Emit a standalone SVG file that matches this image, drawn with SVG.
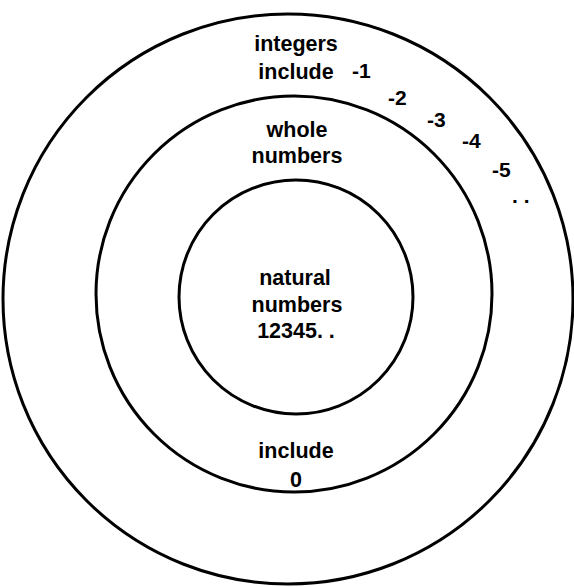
<svg xmlns="http://www.w3.org/2000/svg" width="574" height="587" viewBox="0 0 574 587">
<style>
  .ring { fill: none; stroke: #000; stroke-width: 3; }
  .t { font-family: "Liberation Sans", Arial, sans-serif; font-weight: bold; font-size: 21.5px; fill: #000; text-anchor: middle; }
  .n { font-family: "Liberation Sans", Arial, sans-serif; font-weight: bold; font-size: 21px; fill: #000; text-anchor: start; }
</style>
<rect width="574" height="587" fill="#fff"/>
<g id="integers">
  <circle class="ring" cx="288" cy="299" r="285"/>
  <text class="t" x="296" y="51">integers</text>
  <text class="t" x="296" y="79">include</text>
  <text class="n" x="352" y="78">-1</text>
  <text class="n" x="388" y="105">-2</text>
  <text class="n" x="427" y="127">-3</text>
  <text class="n" x="462" y="148">-4</text>
  <text class="n" x="492" y="177">-5</text>
  <text class="n" x="512" y="203">. .</text>
</g>
<g id="whole-numbers">
  <circle class="ring" cx="294" cy="294" r="198"/>
  <text class="t" x="297" y="137">whole</text>
  <text class="t" x="297" y="163">numbers</text>
  <text class="t" x="296" y="458">include</text>
  <text class="t" x="296" y="487">0</text>
</g>
<g id="natural-numbers">
  <circle class="ring" cx="296" cy="297" r="117"/>
  <text class="t" x="295" y="285">natural</text>
  <text class="t" x="297" y="312">numbers</text>
  <text class="t" x="296" y="338">12345. .</text>
</g>
<g id="connectors"/>
</svg>
